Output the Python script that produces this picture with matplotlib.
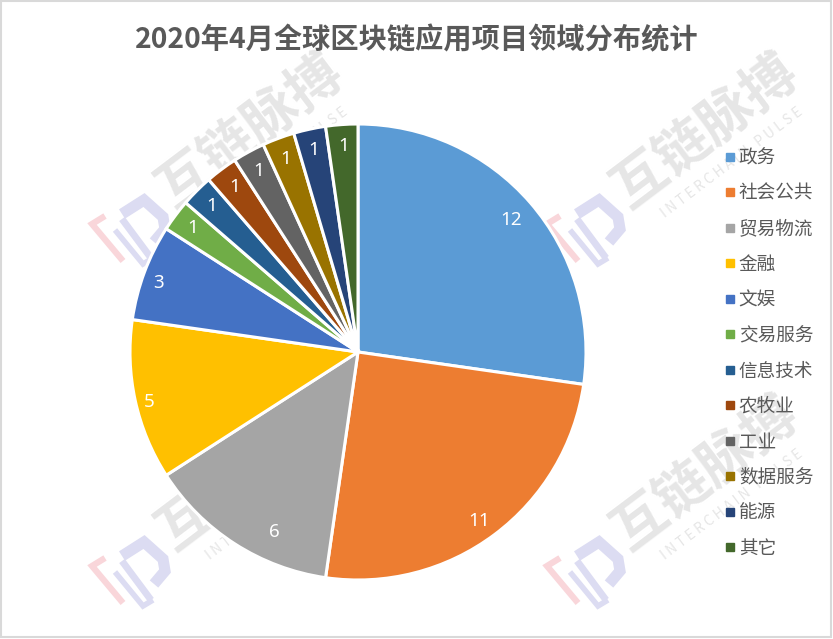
import matplotlib
matplotlib.use("Agg")
import matplotlib.pyplot as plt
from matplotlib.lines import Line2D
from matplotlib.patches import Rectangle

plt.rcParams['font.family'] = ['Noto Sans CJK SC', 'DejaVu Sans']

# Chart data
categories = ["政务", "社会公共", "贸易物流", "金融", "文娱", "交易服务",
              "信息技术", "农牧业", "工业", "数据服务", "能源", "其它"]
values = [12, 11, 6, 5, 3, 1, 1, 1, 1, 1, 1, 1]
colors = ["#5b9bd5", "#ed7d31", "#a5a5a5", "#ffc000", "#4472c4", "#70ad47",
          "#255e91", "#9e480e", "#636363", "#997300", "#264478", "#43682b"]
title = "2020年4月全球区块链应用项目领域分布统计"

W, H = 833, 639
R = 228  # pie radius in pixels
fig = plt.figure(figsize=(W / 100, H / 100), dpi=100, facecolor="white")

# Background layer in pixel coordinates, for the watermarks and border
bg = fig.add_axes([0, 0, 1, 1], zorder=0)
bg.set_xlim(0, W)
bg.set_ylim(H, 0)
bg.axis("off")
bg.add_patch(Rectangle((0.5, 0.5), W - 2.5, H - 2.5, fill=False, ec="#d9d9d9", lw=1.5))


def logo_line(x, y, pts, color, lw):
    # pts are measured on the logo with its own origin at the text centre
    bg.plot([x + p[0] - 5 for p in pts], [y + p[1] + 16 for p in pts], color=color, lw=lw,
            solid_capstyle="butt", solid_joinstyle="miter")


def draw_watermark(x, y):
    # x, y is the centre of the big watermark text
    bg.text(x, y, "互链脉搏", color="#e6e6e6", fontsize=39, fontweight="bold",
            rotation=37, ha="center", va="center", rotation_mode="anchor")
    bg.text(x + 27, y + 32, "I N T E R C H A I N   P U L S E", color="#e6e6e6",
            fontsize=10, rotation=37, ha="center", va="center",
            rotation_mode="anchor")
    # logo
    logo_line(x, y, [(-140, 69), (-153, 77), (-122, 114)], "#f9d6da", 4.5)
    logo_line(x, y, [(-123, 67), (-101, 53), (-82, 70), (-80, 82), (-91, 95)], "#dcdcf2", 8)
    logo_line(x, y, [(-123, 72), (-94, 111)], "#dcdcf2", 5)
    logo_line(x, y, [(-130, 83), (-102, 117), (-92, 111)], "#dcdcf2", 4)


for wx, wy in [(250, 131), (705, 131), (250, 473), (705, 473)]:
    draw_watermark(wx, wy)

# Pie chart
ax = fig.add_axes([(358 - R) / W, 1 - (352 + R) / H, 2 * R / W, 2 * R / H], zorder=1)
ax.patch.set_alpha(0)
wedges, _, autotexts = ax.pie(
    values, colors=colors, startangle=90, counterclock=False, radius=1.0,
    autopct=lambda p: f"{round(p * sum(values) / 100)}", pctdistance=0.905,
    wedgeprops={"edgecolor": "white", "linewidth": 2.2},
    textprops={"color": "white", "fontsize": 13.5})
ax.set_xlim(-1, 1)
ax.set_ylim(-1, 1)
for t in autotexts:
    t.set_fontfamily(["Noto Sans", "DejaVu Sans"])

# A few labels sit away from the wedge middle (pixel shifts, y down)
label_shifts = {0: (-3, 3), 1: (-2, 4), 2: (28, 6), 3: (-7, 6), 4: (-6, 3)}
for i, (dx, dy) in label_shifts.items():
    px, py = autotexts[i].get_position()
    autotexts[i].set_position((px + dx / R, py - dy / R))

fig.text(417 / W, 1 - 40 / H, title, ha="center", va="center", fontsize=20.3,
         fontweight="bold", color="#595959")

# Legend
handles = [Line2D([], [], linestyle="none", marker="s", markersize=5.4,
                  markerfacecolor=c, markeredgecolor=c) for c in colors]
fig.legend(handles, categories, loc="upper left",
           bbox_to_anchor=(723 / W, 1 - 149.5 / H), frameon=False, fontsize=13.4,
           labelcolor="#595959", handlelength=0.8, handletextpad=0.05,
           labelspacing=0.94, borderpad=0, borderaxespad=0)

fig.savefig("out.png", dpi=100)
